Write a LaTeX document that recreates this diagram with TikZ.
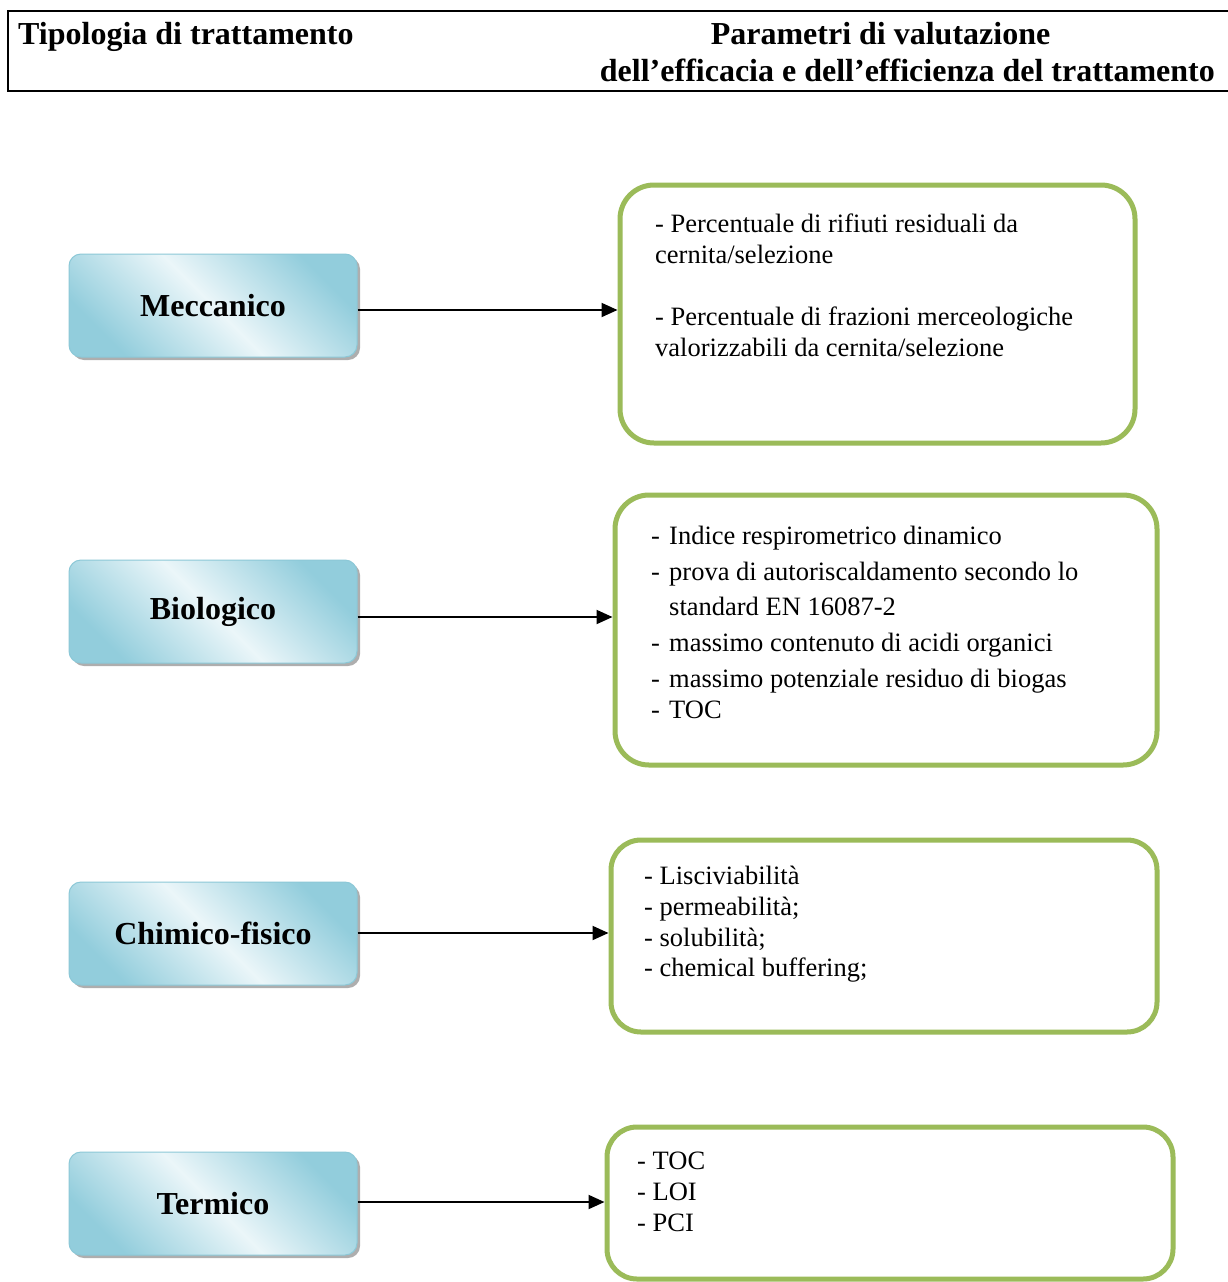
\documentclass[tikz,border=0pt]{standalone}
\usepackage{fontspec}
\setmainfont{Liberation Serif}
\usetikzlibrary{shadows,arrows.meta}
\definecolor{lbdark}{RGB}{146,205,220}
\definecolor{lblight}{RGB}{235,246,249}
\definecolor{lbborder}{RGB}{140,200,215}
\definecolor{grn}{RGB}{155,187,89}
\tikzset{
  lbox/.style={rounded corners=12pt, draw=lbborder, line width=1pt,
    top color=lbdark, bottom color=lbdark, middle color=lblight, shading angle=-45,
    minimum width=288pt, minimum height=103pt, inner sep=0pt,
    font=\fontsize{32}{36}\selectfont\bfseries,
    drop shadow={shadow xshift=3pt, shadow yshift=-3pt, fill=black!45, opacity=0.7}},
  rbox/.style={rounded corners=34pt, draw=grn, line width=5pt, fill=white, inner sep=0pt},
  txt/.style={anchor=base west, inner sep=0pt, font=\fontsize{26.5}{30}\selectfont},
  hdr/.style={inner sep=0pt, font=\fontsize{32}{36}\selectfont\bfseries},
  conn/.style={line width=2pt, -{Triangle[length=16pt,width=14pt]}}
}
\newcommand{\lowr}[1]{\raisebox{-2pt}{#1}}
\begin{document}
\begin{tikzpicture}[x=1pt,y=-1pt]
\useasboundingbox (0,0) rectangle (1228,1282);
\fill[white] (0,0) rectangle (1228,1282);
% header
\draw[line width=2pt] (8,11) rectangle (1240,91);
\node[hdr, anchor=base west] (h1) at (18,44) {Tipologia di trattamento};
\node[hdr, anchor=base] (h2) at (880.5,44) {Parametri di valutazione};
\node[hdr, anchor=base east] (h3) at (1215,81) {dell’efficacia e dell’efficienza del trattamento};
% left boxes
\node[lbox] (m) at (213,305.5) {\lowr{Meccanico}};
\node[lbox] (b) at (213,611.5) {\lowr{Biologico}};
\node[lbox] (c) at (213,933.5) {\lowr{Chimico-fisico}};
\node[lbox] (t) at (213,1203.5) {\lowr{Termico}};
% right boxes
\node[rbox, minimum width=515pt, minimum height=258pt] (r1) at (877.5,314) {};
\node[rbox, minimum width=542pt, minimum height=270pt] (r2) at (886,630) {};
\node[rbox, rounded corners=30pt, minimum width=546pt, minimum height=192pt] (r3) at (884,936) {};
\node[rbox, rounded corners=30pt, minimum width=566pt, minimum height=152pt] (r4) at (890,1203) {};
% box 1 text
\node[txt] (a1) at (655,232) {- Percentuale di rifiuti residuali da};
\node[txt] (a2) at (655,263) {cernita/selezione};
\node[txt] (a3) at (655,325) {- Percentuale di frazioni merceologiche};
\node[txt] (a4) at (655,356) {valorizzabili da cernita/selezione};
% box 2 text
\node[txt] (d1) at (651,544) {-};
\node[txt] (b1) at (669,544) {Indice respirometrico dinamico};
\node[txt] (d2) at (651,580) {-};
\node[txt] (b2) at (669,580) {prova di autoriscaldamento secondo lo};
\node[txt] (b3) at (669,615) {standard EN 16087-2};
\node[txt] (d4) at (651,651) {-};
\node[txt] (b4) at (669,651) {massimo contenuto di acidi organici};
\node[txt] (d5) at (651,687) {-};
\node[txt] (b5) at (669,687) {massimo potenziale residuo di biogas};
\node[txt] (d6) at (651,718) {-};
\node[txt] (b6) at (669,718) {TOC};
% box 3 text
\node[txt] (c1) at (644,884) {- Lisciviabilità};
\node[txt] (c2) at (644,915) {- permeabilità;};
\node[txt] (c3) at (644,946) {- solubilità;};
\node[txt] (c4) at (644,976) {- chemical buffering;};
% box 4 text
\node[txt] (e1) at (637,1169) {- TOC};
\node[txt] (e2) at (637,1200) {- LOI};
\node[txt] (e3) at (637,1231) {- PCI};
% connectors
\draw[conn] ([yshift=-4.5pt]m.east) -- ([yshift=-4.5pt]m.east -| r1.west);
\draw[conn] ([yshift=-5.5pt]b.east) -- ([yshift=-5.5pt]b.east -| r2.west);
\draw[conn] ([yshift=0.5pt]c.east) -- ([yshift=0.5pt]c.east -| r3.west);
\draw[conn] ([yshift=1.5pt]t.east) -- ([yshift=1.5pt]t.east -| r4.west);
\end{tikzpicture}
\end{document}
